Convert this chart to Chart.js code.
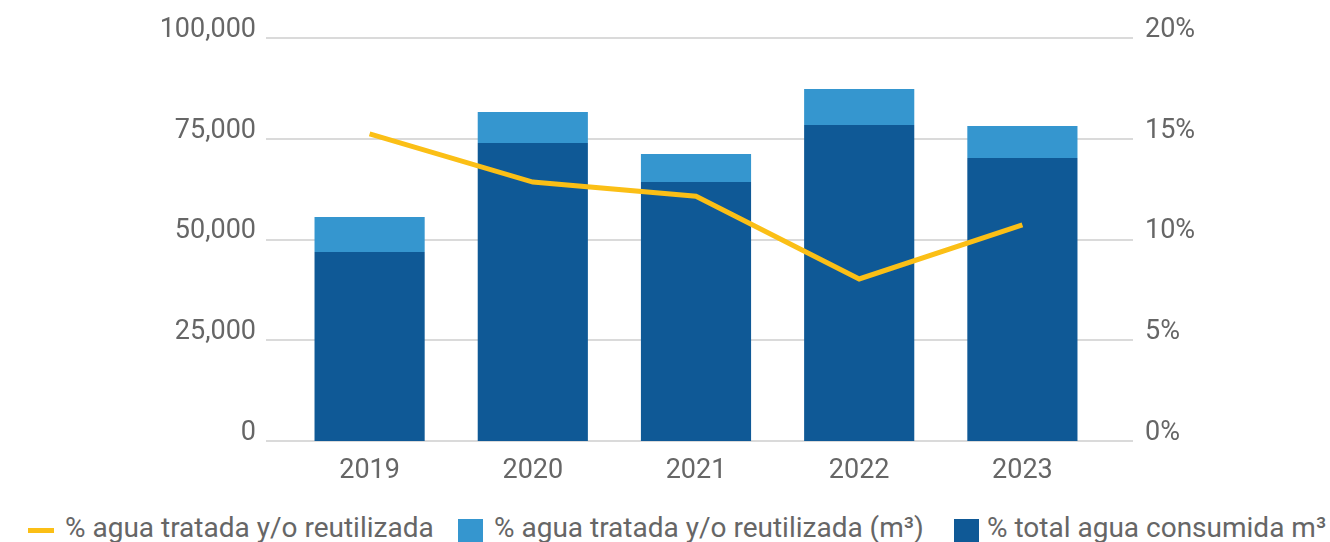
<!DOCTYPE html>
<html>
<head>
<meta charset="utf-8">
<script src="https://cdn.jsdelivr.net/npm/chart.js@4.4.0/dist/chart.umd.min.js"></script>
<style>
  html, body { margin: 0; padding: 0; background: #fff; overflow: hidden; }
  #wrap { position: relative; width: 1330px; height: 500px; }
  #legend { position: absolute; left: 0; top: 500px; width: 1330px; height: 42px; overflow: hidden; font-family: Roboto, sans-serif; font-size: 28px; color: #666; }
  #legend .mk { position: absolute; }
  #legend .tx { position: absolute; line-height: 28px; white-space: nowrap; }
</style>
</head>
<body>
<div id="wrap"><canvas id="chart"></canvas></div>
<div id="legend"></div>
<script>
// data
const years = ['2019', '2020', '2021', '2022', '2023'];
const totalConsumida = [46900, 73950, 64250, 78400, 70200];
const aguaTratada = [8680, 7690, 6950, 8930, 7940];
const pctTratada = [15.24, 12.85, 12.15, 8.04, 10.72];
const leftTicks = [0, 25000, 50000, 75000, 100000];
const rightTicks = [0, 5, 10, 15, 20];

const labelLine = '% agua tratada y/o reutilizada';
const labelLight = '% agua tratada y/o reutilizada (m³)';
const labelDark = '% total agua consumida m³';

const YELLOW = '#FBBF16';
const LIGHT = '#3596CF';
const DARK = '#0F5996';
const GREY = '#666666';

// horizontal grid lines run a bit wider than the bar area
const gridPlugin = {
  id: 'wideGrid',
  beforeDatasetsDraw(chart) {
    const { ctx, chartArea, scales } = chart;
    ctx.save();
    ctx.strokeStyle = '#DADADA';
    ctx.lineWidth = 2;
    leftTicks.forEach(v => {
      const y = Math.round(scales.y.getPixelForValue(v));
      ctx.beginPath();
      ctx.moveTo(chartArea.left - 22, y);
      ctx.lineTo(chartArea.right + 29, y);
      ctx.stroke();
    });
    ctx.restore();
  }
};

const fitY = w => s => { s.width = w; s.paddingTop = 0; s.paddingBottom = 0; };

const chart = new Chart(document.getElementById('chart'), {
  type: 'bar',
  data: {
    labels: years,
    datasets: [
      {
        type: 'line',
        label: labelLine,
        data: pctTratada,
        yAxisID: 'y1',
        borderColor: YELLOW,
        backgroundColor: YELLOW,
        borderWidth: 5,
        pointRadius: 0,
        tension: 0,
        order: 0
      },
      {
        label: labelDark,
        data: totalConsumida,
        backgroundColor: DARK,
        stack: 'agua',
        order: 1
      },
      {
        label: labelLight,
        data: aguaTratada,
        backgroundColor: LIGHT,
        stack: 'agua',
        order: 1
      }
    ]
  },
  options: {
    responsive: true,
    maintainAspectRatio: false,
    animation: false,
    categoryPercentage: 0.675,
    barPercentage: 1,
    layout: { padding: { top: 38, left: 0, right: 0, bottom: 0 } },
    plugins: {
      legend: { display: false },
      tooltip: { enabled: false }
    },
    scales: {
      x: {
        stacked: true,
        grid: { display: false },
        border: { display: false },
        ticks: { color: GREY, font: { family: 'Roboto', size: 27 }, padding: 6 },
        afterFit: s => { s.height = 59; }
      },
      y: {
        stacked: true,
        position: 'left',
        min: 0,
        max: 100000,
        afterBuildTicks: s => { s.ticks = leftTicks.map(v => ({ value: v })); },
        grid: { display: false },
        border: { display: false },
        ticks: {
          color: GREY,
          font: { family: 'Roboto', size: 27 },
          padding: 24,
          labelOffset: -8,
          callback: v => v.toLocaleString('en-US')
        },
        afterFit: fitY(288)
      },
      y1: {
        position: 'right',
        min: 0,
        max: 20,
        afterBuildTicks: s => { s.ticks = rightTicks.map(v => ({ value: v })); },
        grid: { display: false },
        border: { display: false },
        ticks: {
          color: GREY,
          font: { family: 'Roboto', size: 27 },
          padding: 33,
          labelOffset: -8,
          callback: v => v + '%'
        },
        afterFit: fitY(226)
      }
    }
  },
  plugins: [gridPlugin]
});

// legend under the chart, built from the datasets
const legend = document.getElementById('legend');
const legendItems = [
  { ds: chart.data.datasets[0], mark: { left: 28, top: 28, w: 26, h: 5 }, textLeft: 65 },
  { ds: chart.data.datasets[2], mark: { left: 458, top: 19, w: 25, h: 25 }, textLeft: 494 },
  { ds: chart.data.datasets[1], mark: { left: 954, top: 19, w: 25, h: 25 }, textLeft: 987 }
];
legendItems.forEach(it => {
  const m = document.createElement('div');
  m.className = 'mk';
  m.style.cssText = `left:${it.mark.left}px;top:${it.mark.top}px;width:${it.mark.w}px;height:${it.mark.h}px;background:${it.ds.backgroundColor};`;
  legend.appendChild(m);
  const t = document.createElement('div');
  t.className = 'tx';
  t.style.left = it.textLeft + 'px';
  t.style.top = '14px';
  t.textContent = it.ds.label;
  legend.appendChild(t);
});
</script>
</body>
</html>
